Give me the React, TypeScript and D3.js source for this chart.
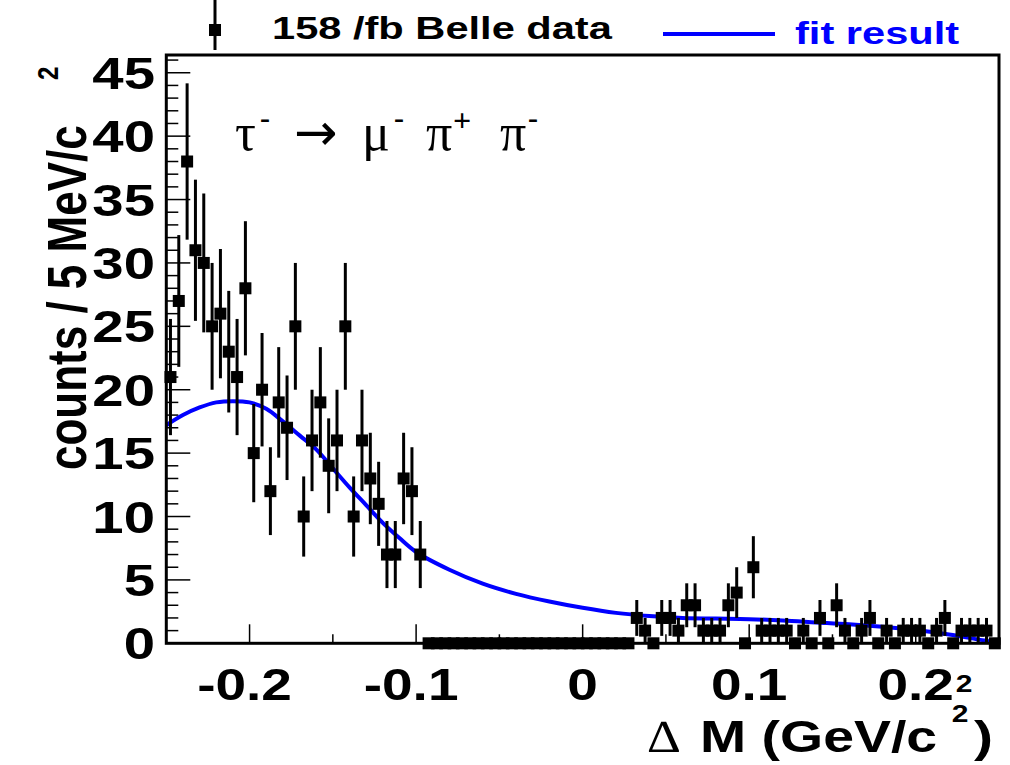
import React from "react";
import * as d3 from "d3";

// ---- data ----
const binLow = -0.25;
const binWidth = 0.005;
const counts: number[] = [
  21, 27, 38, 31, 30, 25, 26, 23, 21, 28,
  15, 20, 12, 19, 17, 25, 10, 16, 19, 14,
  16, 25, 10, 16, 13, 11, 7, 7, 13, 12,
  7, 0, 0, 0, 0, 0, 0, 0, 0, 0,
  0, 0, 0, 0, 0, 0, 0, 0, 0, 0,
  0, 0, 0, 0, 0, 0, 2, 1, 0, 2,
  2, 1, 3, 3, 1, 1, 1, 3, 4, 0,
  6, 1, 1, 1, 1, 0, 1, 0, 2, 0,
  3, 1, 0, 1, 2, 0, 1, 0, 1, 1,
  1, 0, 1, 2, 0, 1, 1, 1, 1, 0,
];
const fitX: number[] = [
  -0.25, -0.24, -0.23, -0.22, -0.21, -0.2, -0.19, -0.18, -0.17, -0.16,
  -0.15, -0.14, -0.13, -0.12, -0.11, -0.1, -0.08, -0.06, -0.04, -0.02,
  0.0, 0.02, 0.04, 0.06, 0.08, 0.1, 0.12, 0.14, 0.16, 0.18,
  0.2, 0.22, 0.24, 0.25,
];
const fitY: number[] = [
  17.2, 18.0, 18.6, 19.0, 19.1, 19.0, 18.5, 17.5, 16.4, 15.3,
  13.8, 12.3, 10.9, 9.5, 8.3, 7.2, 5.8, 4.7, 3.9, 3.3,
  2.8, 2.4, 2.15, 2.0, 1.95, 1.9, 1.8, 1.65, 1.5, 1.3,
  1.05, 0.7, 0.25, 0.05,
];
const xTickValues: number[] = [-0.2, -0.1, 0, 0.1, 0.2];
const xTickLabels: string[] = ["-0.2", "-0.1", "0", "0.1", "0.2"];
const yTickValues: number[] = [0, 5, 10, 15, 20, 25, 30, 35, 40, 45];
const yTickLabels: string[] = ["0", "5", "10", "15", "20", "25", "30", "35", "40", "45"];
const legendData = "158 /fb Belle data";
const legendFit = "fit result";

const SANS = "'Liberation Sans', Arial, Helvetica, sans-serif";
const SERIF = "'Liberation Serif', 'DejaVu Serif', serif";
const SX = 1.25;

export default function App() {
  const W = 1010, H = 765;
  const left = 166.3, right = 999, top = 55, bottom = 643.3;
  const x = d3.scaleLinear().domain([-0.25, 0.25]).range([left, right]);
  const y = d3.scaleLinear().domain([0, 46.4]).range([bottom, top]);

  const points = counts.map((c, i) => ({ cx: binLow + binWidth * (i + 0.5), c }));
  const fit: [number, number][] = fitX.map((v, i) => [v, fitY[i]]);
  const line = d3.line<[number, number]>().x(d => x(d[0])).y(d => y(d[1])).curve(d3.curveCatmullRom);

  const minorY = d3.range(0, 47, 1);
  const xMinor = d3.range(-0.25, 0.2501, 0.05);

  const sq = 12;

  return (
    <svg width={W} height={H} style={{ position: "absolute", left: 0, top: 0, background: "#fff" }}>
      <rect x={0} y={0} width={W} height={H} fill="#fff" />
      {/* y ticks */}
      {minorY.map(v => (
        <line key={"ym" + v} x1={left} x2={left + (v % 5 === 0 ? 24 : 12)} y1={y(v)} y2={y(v)} stroke="#000" strokeWidth={1.5} />
      ))}
      {/* x ticks */}
      {xMinor.map((v, i) => {
        const major = Math.abs(Math.round(v * 10) - v * 10) < 1e-6;
        return <line key={"xm" + i} x1={x(v)} x2={x(v)} y1={bottom} y2={bottom - (major ? 19 : 9)} stroke="#000" strokeWidth={1.5} />;
      })}
      {/* fit curve */}
      <path d={line(fit) || ""} fill="none" stroke="#0000ff" strokeWidth={4} />
      {/* data points */}
      {points.map((p, i) => {
        const e = Math.sqrt(p.c);
        return (
          <g key={"p" + i}>
            {p.c > 0 && (
              <line x1={x(p.cx)} x2={x(p.cx)} y1={y(p.c + e)} y2={y(p.c - e)} stroke="#000" strokeWidth={3} />
            )}
            <rect x={x(p.cx) - sq / 2} y={y(p.c) - sq / 2} width={sq} height={sq} fill="#000" />
          </g>
        );
      })}
      {/* frame */}
      <rect x={left} y={top} width={right - left} height={bottom - top} fill="none" stroke="#000" strokeWidth={3} />

      {/* y tick labels */}
      {yTickValues.map((v, i) => (
        <text key={"yl" + v} transform={`translate(155,${y(v) + 16}) scale(1.28,1)`} textAnchor="end"
          fontFamily={SANS} fontWeight="bold" fontSize={44} fill="#000">{yTickLabels[i]}</text>
      ))}
      {/* x tick labels */}
      {xTickValues.map((v, i) => (
        <text key={"xl" + v} transform={`translate(${x(v) - (v < 0 ? 5 : 0)},700) scale(${SX},1)`} textAnchor="middle"
          fontFamily={SANS} fontWeight="bold" fontSize={44} fill="#000">{xTickLabels[i]}</text>
      ))}
      <text transform={`translate(964,692) scale(${SX},1)`} textAnchor="middle" fontFamily={SANS} fontWeight="bold" fontSize={24}>2</text>

      {/* x title */}
      <g>
        <text transform="translate(664,752) scale(1.15,1)" textAnchor="middle" fontFamily={SERIF} fontSize={46}>∆</text>
        <text transform="translate(700,752) scale(1.26,1)" fontFamily={SANS} fontWeight="bold" fontSize={44}>M (GeV/c</text>
        <text transform={`translate(960,722) scale(${SX},1)`} textAnchor="middle" fontFamily={SANS} fontWeight="bold" fontSize={24}>2</text>
        <text transform="translate(974,752) scale(1.3,1)" fontFamily={SANS} fontWeight="bold" fontSize={44}>)</text>
      </g>

      {/* y title */}
      <g transform="translate(86,470) rotate(-90)">
        <text transform={`scale(1,${SX})`} x={0} y={0} fontFamily={SANS} fontWeight="bold" fontSize={44}>counts / 5 MeV/c</text>
      </g>
      <g transform="translate(58,80) rotate(-90)">
        <text transform={`scale(1,${SX})`} x={0} y={0} fontFamily={SANS} fontWeight="bold" fontSize={24}>2</text>
      </g>

      {/* annotation */}
      <g fontFamily={SERIF} fontSize={52} fill="#000">
        <text x={235} y={150}>τ</text>
        <text x={260} y={128} fontSize={30} fontWeight="bold">-</text>
        <text x={294} y={150} fontFamily="'DejaVu Sans', sans-serif" fontSize={52} fontWeight="normal">→</text>
        <text x={362} y={150}>μ</text>
        <text x={394} y={128} fontSize={30} fontWeight="bold">-</text>
        <text x={426} y={150}>π</text>
        <text x={453} y={131} fontSize={32} fontWeight="bold">+</text>
        <text x={500} y={150}>π</text>
        <text x={528} y={128} fontSize={30} fontWeight="bold">-</text>
      </g>

      {/* legend */}
      <line x1={215} x2={215} y1={0} y2={50} stroke="#000" strokeWidth={3} />
      <rect x={215 - sq / 2} y={30 - sq / 2} width={sq} height={sq} fill="#000" />
      <text transform="translate(272,39) scale(1.3,1)" fontFamily={SANS} fontWeight="bold" fontSize={32} fill="#000">{legendData}</text>
      <line x1={663} x2={775} y1={34} y2={34} stroke="#0000ff" strokeWidth={4} />
      <text transform="translate(795,44) scale(1.3,1)" fontFamily={SANS} fontWeight="bold" fontSize={32} fill="#0000ff">{legendFit}</text>
    </svg>
  );
}
